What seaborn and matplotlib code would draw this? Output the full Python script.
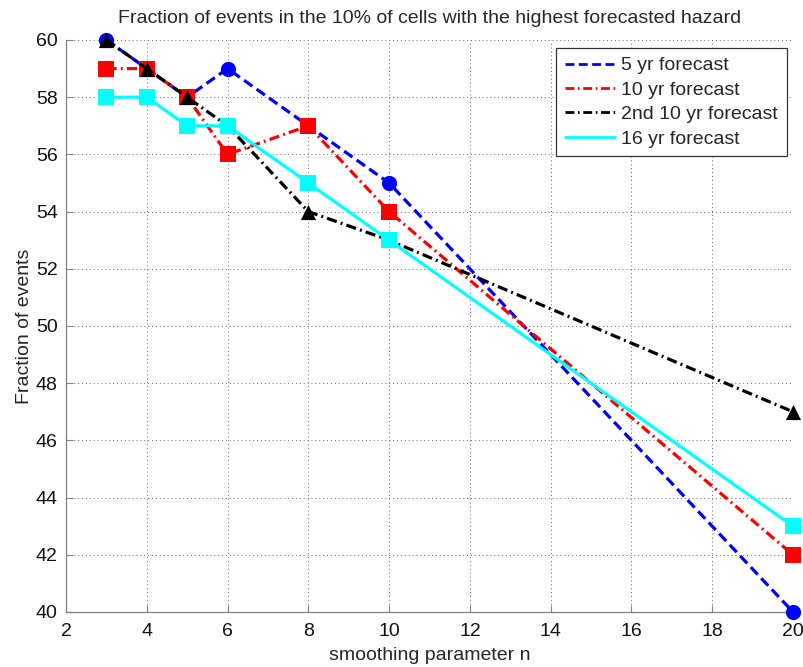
import pandas as pd
import matplotlib
matplotlib.use("Agg")
import matplotlib.pyplot as plt
import seaborn as sns

smoothing_n = [3, 4, 5, 6, 8, 10, 20]
fc_5yr = [60, 59, 58, 59, 57, 55, 40]
fc_10yr = [59, 59, 58, 56, 57, 54, 42]
fc_10yr_2nd = [60, 59, 58, 57, 54, 53, 47]
fc_16yr = [58, 58, 57, 57, 55, 53, 43]
labels = ["5 yr forecast", "10 yr forecast", "2nd 10 yr forecast", "16 yr forecast"]

sns.set_style("white")
plt.rcParams['font.family'] = ['Liberation Sans', 'DejaVu Sans']

series = [fc_5yr, fc_10yr, fc_10yr_2nd, fc_16yr]
colors = ["#0000ff", "#ff0000", "#000000", "#00ffff"]
styles = [(0, (3.2, 1.6)), (0, (3.2, 1.3, 0.6, 1.3)), (0, (3.2, 1.3, 0.6, 1.3)), "-"]
markers = ["o", "s", "^", "s"]

fig = plt.figure(figsize=(8.04, 6.67), dpi=100)
# axes box in pixels: x 66..793, y 40..612
ax = fig.add_axes([66 / 804, 55 / 667, 727 / 804, 572 / 667])

for i, (vals, lab, col, ls, mk) in enumerate(zip(series, labels, colors, styles, markers)):
    df = pd.DataFrame({"n": smoothing_n, "frac": vals})
    sns.lineplot(data=df, x="n", y="frac", ax=ax, color=col, linestyle=ls,
                 linewidth=2.3, label=lab, zorder=3 + i)
    sns.scatterplot(data=df, x="n", y="frac", ax=ax, color=col, marker=mk,
                    s=120, edgecolor=col, linewidth=0, legend=False, zorder=3 + i,
                    clip_on=False)

ax.set_xlim(2, 20)
ax.set_ylim(40, 60)
ax.set_xticks(range(2, 21, 2))
ax.set_yticks(range(40, 61, 2))
ax.grid(True, color="#666666", linestyle=(0, (1, 3)), linewidth=0.7)
for s in ["top", "right"]:
    ax.spines[s].set_visible(False)
for s in ["left", "bottom"]:
    ax.spines[s].set_color("#808080")
    ax.spines[s].set_linewidth(0.9)
ax.tick_params(axis="both", direction="in", length=5, width=0.8, labelsize=14,
               color="#808080", labelcolor="#111111", bottom=True, left=True)
ax.tick_params(axis="x", pad=8)
ax.tick_params(axis="y", pad=6)
ax.set_xlabel("smoothing parameter n", fontsize=14, labelpad=5)
ax.set_ylabel("Fraction of events", fontsize=14, labelpad=2)
ax.set_title("Fraction of events in the 10% of cells with the highest forecasted hazard",
             fontsize=14, pad=12)

leg = ax.legend(loc="upper left", bbox_to_anchor=(490 / 727, 1 - 8 / 572), fontsize=14,
                frameon=True, fancybox=False, edgecolor="#333333", framealpha=1,
                handlelength=2.6, handletextpad=0.3, borderpad=0.45,
                borderaxespad=0, labelspacing=0.35)
leg.get_frame().set_linewidth(0.9)
for h in leg.get_lines():
    h.set_linewidth(2.0)

fig.savefig("out.png", dpi=100)
